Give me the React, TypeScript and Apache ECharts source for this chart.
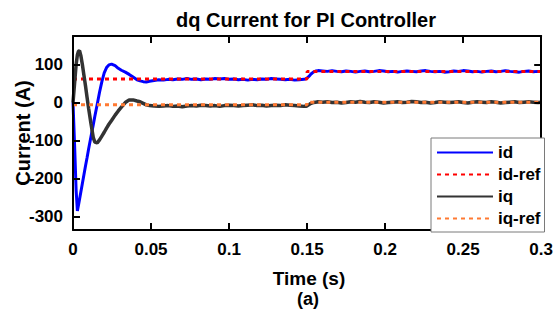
import React, { useEffect, useRef } from "react";
import * as echarts from "echarts";

// ---- data ----
const timeTransient = [0, 0.001, 0.002, 0.0028, 0.0035, 0.0042, 0.005, 0.006, 0.007, 0.008, 0.009, 0.01, 0.0115, 0.013, 0.014, 0.0155, 0.017, 0.0185, 0.02, 0.0215, 0.023, 0.0247, 0.027, 0.029, 0.031, 0.0335, 0.036, 0.0385, 0.041, 0.043, 0.045, 0.047, 0.049];
const idTransient = [0, -110, -230, -285, -270, -254, -236, -213, -190, -167, -145, -122, -90, -58, -36, -5, 27, 55, 78, 92, 99, 101, 97, 90, 85, 80, 74, 67, 60, 57, 55, 54, 56];
const iqTransient = [0, 50, 100, 125, 135, 136, 124, 100, 72, 44, 14, -15, -55, -92, -104, -106, -98, -88, -78, -67, -57, -47, -33, -22, -12, 0, 7, 7, 4, 2, -2, -6, -8];

const timeMid = [0.052, 0.055, 0.058, 0.061, 0.064, 0.067, 0.07, 0.073, 0.076, 0.079, 0.082, 0.085, 0.088, 0.091, 0.094, 0.097, 0.1, 0.103, 0.106, 0.109, 0.112, 0.115, 0.118, 0.121, 0.124, 0.127, 0.13, 0.133, 0.136, 0.139, 0.142, 0.145, 0.148];
const idMid = [58, 60, 59, 61, 60, 62, 61, 63, 61, 62, 60, 62, 61, 63, 62, 63, 61, 62, 60, 61, 59, 61, 60, 62, 61, 63, 62, 61, 60, 61, 59, 60, 61];
const iqMid = [-9, -10, -9, -8, -10, -9, -11, -9, -8, -9, -7, -8, -9, -8, -10, -8, -7, -8, -9, -8, -7, -6, -8, -7, -9, -8, -7, -8, -6, -7, -8, -9, -10];

const timeStep = [0.1495, 0.151, 0.1525, 0.154, 0.1555, 0.157];
const idStep = [63, 68, 75, 80, 83, 84];
const iqStep = [-10, -6, -2, 0, 1, 2];

const timeLate = [0.16, 0.163, 0.166, 0.169, 0.172, 0.175, 0.178, 0.181, 0.184, 0.187, 0.19, 0.193, 0.196, 0.199, 0.202, 0.205, 0.208, 0.211, 0.214, 0.217, 0.22, 0.223, 0.226, 0.229, 0.232, 0.235, 0.238, 0.241, 0.244, 0.247, 0.25, 0.253, 0.256, 0.259, 0.262, 0.265, 0.268, 0.271, 0.274, 0.277, 0.28, 0.283, 0.286, 0.289, 0.292, 0.295, 0.298, 0.3];
const idLate = [83, 82, 84, 82, 81, 83, 82, 80, 82, 83, 81, 82, 84, 83, 81, 82, 80, 82, 83, 82, 81, 83, 84, 82, 81, 82, 80, 81, 83, 82, 84, 83, 81, 82, 80, 82, 83, 81, 82, 84, 82, 81, 80, 82, 83, 81, 82, 82];
const iqLate = [1, 2, 0, 1, -1, 0, 2, 1, 3, 1, 0, 2, 1, -1, 0, 1, 2, 0, 1, 3, 2, 0, 1, -1, 0, 2, 1, 0, 1, 2, 0, -1, 1, 2, 1, 0, 2, 1, -1, 0, 1, 2, 0, 1, 2, 1, 0, 1];

const refTimes = [0, 0.15, 0.15, 0.3];
const idRefVals = [62, 62, 82, 82];
const iqRefVals = [-6, -6, 1, 1];

const xTickLabels = ["0", "0.05", "0.1", "0.15", "0.2", "0.25", "0.3"];
const yTickValues = [-300, -200, -100, 0, 100];
const seriesNames = ["id", "id-ref", "iq", "iq-ref"];

const FONT = '"Liberation Sans", Arial, Helvetica, sans-serif';

function zip(t: number[], v: number[]) {
  return t.map((x, i) => [x, v[i]]);
}

function makeTick() {
  return { show: true, inside: true, length: 7, lineStyle: { color: "#000", width: 2 } };
}
function makeLine() {
  return { show: true, onZero: false, lineStyle: { color: "#000", width: 2 } };
}

export default function App() {
  const ref = useRef<HTMLDivElement>(null);
  useEffect(() => {
    document.body.style.margin = "0";
    if (!ref.current) return;
    const chart = echarts.init(ref.current, null, { renderer: "svg" });
    const timeAll = [...timeTransient, ...timeMid, ...timeStep, ...timeLate];
    const idAll = [...idTransient, ...idMid, ...idStep, ...idLate];
    const iqAll = [...iqTransient, ...iqMid, ...iqStep, ...iqLate];

    const labelStyle = { color: "#000", fontSize: 17, fontWeight: "bold" as const, fontFamily: FONT };

    chart.setOption({
      animation: false,
      grid: { left: 73, right: 14, top: 36, bottom: 93 },
      graphic: [
        { type: "text", x: 306, y: 19.5, style: { text: "dq Current for PI Controller", font: `bold 20px ${FONT}`, fill: "#000", textAlign: "center", textVerticalAlign: "middle" } },
        { type: "text", x: 309, y: 278, style: { text: "Time (s)", font: `bold 19px ${FONT}`, fill: "#000", textAlign: "center", textVerticalAlign: "middle" } },
        { type: "text", x: 308, y: 299, style: { text: "(a)", font: `bold 18px ${FONT}`, fill: "#000", textAlign: "center", textVerticalAlign: "middle" } },
        { type: "text", x: 23, y: 133, rotation: Math.PI / 2, style: { text: "Current (A)", font: `bold 20px ${FONT}`, fill: "#000", textAlign: "center", textVerticalAlign: "middle" } },
      ],
      legend: {
        orient: "vertical",
        left: 431,
        top: 138,
        itemWidth: 56,
        itemHeight: 14,
        itemGap: 5,
        padding: [6, 4, 5, 5],
        backgroundColor: "#fff",
        borderColor: "#7a7a7a",
        borderWidth: 1,
        selectedMode: false,
        itemStyle: { opacity: 0 },
        textStyle: { color: "#000", fontSize: 17, fontWeight: "bold", fontFamily: FONT, lineHeight: 17 },
        data: seriesNames,
        z: 20,
      },
      xAxis: [
        {
          type: "value", min: 0, max: 0.3, interval: 0.05, position: "bottom", z: 10,
          axisLine: makeLine(), axisTick: makeTick(), splitLine: { show: false },
          axisLabel: { ...labelStyle, margin: 11, formatter: (v: number) => xTickLabels[Math.round(v / 0.05)] ?? "" },
        },
        {
          type: "value", min: 0, max: 0.3, interval: 0.05, position: "top", z: 10,
          axisLine: makeLine(), axisTick: makeTick(), splitLine: { show: false }, axisLabel: { show: false },
        },
      ],
      yAxis: [
        {
          type: "value", min: -335, max: 175, position: "left", z: 10,
          axisLine: makeLine(), axisTick: { ...makeTick(), customValues: yTickValues }, splitLine: { show: false },
          axisLabel: { ...labelStyle, margin: 10, customValues: yTickValues, formatter: (v: number) => String(v) },
        },
        {
          type: "value", min: -335, max: 175, position: "right", z: 10,
          axisLine: makeLine(), axisTick: { ...makeTick(), customValues: yTickValues }, splitLine: { show: false },
          axisLabel: { show: false, customValues: yTickValues },
        },
      ],
      series: [
        { name: "id", type: "line", symbol: "none", data: zip(timeAll, idAll), lineStyle: { color: "#0000ff", width: 3 }, itemStyle: { color: "#0000ff" } },
        { name: "id-ref", type: "line", symbol: "none", data: zip(refTimes, idRefVals), lineStyle: { color: "#ff0000", width: 3, type: [4, 4] }, itemStyle: { color: "#ff0000" } },
        { name: "iq", type: "line", symbol: "none", data: zip(timeAll, iqAll), lineStyle: { color: "#333333", width: 3.5 }, itemStyle: { color: "#333333" } },
        { name: "iq-ref", type: "line", symbol: "none", data: zip(refTimes, iqRefVals), lineStyle: { color: "#ff7a33", width: 3, type: [4, 4] }, itemStyle: { color: "#ff7a33" } },
      ],
    });
    return () => chart.dispose();
  }, []);
  return <div ref={ref} style={{ width: 556, height: 323 }} />;
}
